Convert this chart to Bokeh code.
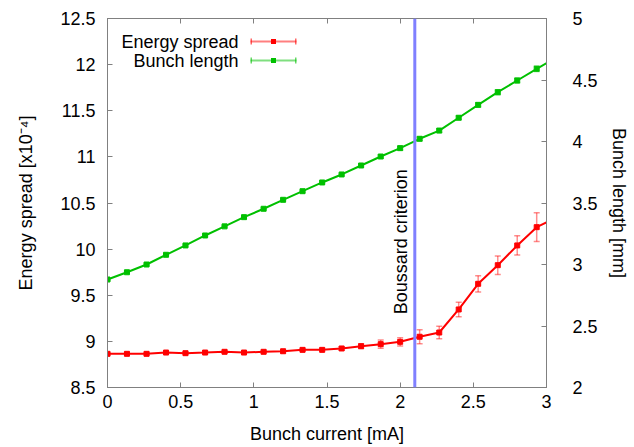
import numpy as np
from bokeh.plotting import figure
from bokeh.models import (Range1d, LinearAxis, ColumnDataSource, Whisker, TeeHead,
                          Span, Label, BoxAnnotation, FixedTicker, CustomLabelingPolicy)
from bokeh.embed import file_html
from bokeh.resources import INLINE

# ---------------- data ----------------
current = [0.0, 0.133, 0.267, 0.4, 0.533, 0.667, 0.8, 0.933, 1.067, 1.2, 1.333, 1.467,
           1.6, 1.733, 1.867, 2.0, 2.133, 2.267, 2.4, 2.533, 2.667, 2.8, 2.933, 3.067]
energy_spread = [8.865, 8.865, 8.865, 8.879, 8.872, 8.879, 8.887, 8.879, 8.887, 8.893,
                 8.908, 8.908, 8.923, 8.948, 8.97, 8.995, 9.05, 9.096, 9.346, 9.624,
                 9.826, 10.04, 10.238, 10.34]
energy_err = [0.015, 0.015, 0.015, 0.015, 0.015, 0.015, 0.015, 0.015, 0.015, 0.015,
              0.015, 0.015, 0.02, 0.025, 0.045, 0.045, 0.075, 0.068, 0.078, 0.088,
              0.1, 0.105, 0.155, 0.16]
bunch_length = [2.878, 2.937, 3.0, 3.079, 3.155, 3.236, 3.31, 3.385, 3.453, 3.526,
                3.596, 3.667, 3.732, 3.805, 3.878, 3.946, 4.022, 4.089, 4.193, 4.298,
                4.401, 4.496, 4.591, 4.683]
bunch_err = [0.008, 0.008, 0.008, 0.008, 0.008, 0.008, 0.008, 0.008, 0.008, 0.008,
             0.008, 0.008, 0.008, 0.01, 0.012, 0.015, 0.015, 0.015, 0.015, 0.018,
             0.02, 0.02, 0.022, 0.022]
boussard_current = 2.1
boussard_label_y = 10.08

x_ticks = [0, 0.5, 1, 1.5, 2, 2.5, 3]
x_tick_labels = ["0", "0.5", "1", "1.5", "2", "2.5", "3"]
left_ticks = [8.5, 9, 9.5, 10, 10.5, 11, 11.5, 12, 12.5]
left_tick_labels = ["8.5", "9", "9.5", "10", "10.5", "11", "11.5", "12", "12.5"]
right_ticks = [2, 2.5, 3, 3.5, 4, 4.5, 5]
right_tick_labels = ["2", "2.5", "3", "3.5", "4", "4.5", "5"]

FONT = "Liberation Sans"
FS = "18px"
RED = "#ff0000"
GREEN = "#00c000"
BLUE = "#8080ff"
AXC = "#808080"

src = ColumnDataSource(dict(
    x=current,
    es=energy_spread,
    es_lo=[v - e for v, e in zip(energy_spread, energy_err)],
    es_hi=[v + e for v, e in zip(energy_spread, energy_err)],
    bl=bunch_length,
    bl_lo=[v - e for v, e in zip(bunch_length, bunch_err)],
    bl_hi=[v + e for v, e in zip(bunch_length, bunch_err)],
))

p = figure(width=634, height=447, output_backend="svg", toolbar_location=None,
           x_range=Range1d(0, 3), y_range=Range1d(8.5, 12.5),
           min_border_left=107, min_border_right=88, min_border_top=18,
           min_border_bottom=60)
p.extra_y_ranges = {"bl": Range1d(2, 5)}
p.grid.visible = False
p.outline_line_color = AXC
p.background_fill_color = "white"
p.border_fill_color = "white"


def style_axis(ax, ticks, labels, standoff, label_standoff=None):
    ax.ticker = FixedTicker(ticks=ticks)
    ax.major_label_overrides = {t: l for t, l in zip(ticks, labels)}
    ax.major_tick_in = 5
    ax.major_tick_out = 0
    ax.minor_tick_in = 0
    ax.minor_tick_out = 0
    ax.axis_line_color = AXC
    ax.major_tick_line_color = AXC
    ax.major_label_text_font = FONT
    ax.major_label_text_font_size = FS
    ax.major_label_text_color = "black"
    ax.major_label_standoff = standoff
    ax.axis_label_text_font = FONT
    ax.axis_label_text_font_size = FS
    ax.axis_label_text_font_style = "normal"
    ax.axis_label_text_color = "black"
    if label_standoff is not None:
        ax.axis_label_standoff = label_standoff


xa = p.xaxis[0]
style_axis(xa, x_ticks, x_tick_labels, 7, 13)
xa.axis_label = "Bunch current [mA]"

ya = p.yaxis[0]
style_axis(ya, left_ticks, left_tick_labels, 12, 21)
ya.axis_label = "Energy spread [x10\u207b\u2074]"

ra = LinearAxis(y_range_name="bl")
style_axis(ra, right_ticks, right_tick_labels, 26, 8)
ra.axis_label = "Bunch length [mm]"
p.add_layout(ra, "right")

# mirrored tick marks on the top border, without labels
ta = LinearAxis()
style_axis(ta, x_ticks, x_tick_labels, 0)
ta.major_label_policy = CustomLabelingPolicy(code="return []")
p.add_layout(ta, "above")

# Boussard criterion
p.add_layout(Span(location=boussard_current, dimension="height", line_color=BLUE,
                  line_width=3))
p.add_layout(Label(x=boussard_current, y=boussard_label_y, text="Boussard criterion",
                   angle=np.pi / 2, text_align="center", text_baseline="alphabetic",
                   x_offset=-14, text_font=FONT, text_font_size=FS,
                   text_color="black"))

# error bars
for lo, hi, color, rng in [("es_lo", "es_hi", RED, "default"),
                           ("bl_lo", "bl_hi", GREEN, "bl")]:
    w = Whisker(source=src, base="x", lower=lo, upper=hi, line_color=color,
                line_alpha=0.45, line_width=1.5,
                upper_head=TeeHead(size=6, line_color=color, line_alpha=0.45, line_width=1.5),
                lower_head=TeeHead(size=6, line_color=color, line_alpha=0.45, line_width=1.5),
                y_range_name=rng)
    p.add_layout(w)

p.line("x", "es", source=src, line_color=RED, line_width=2)
p.scatter("x", "es", source=src, marker="square", size=5, color=RED)
p.line("x", "bl", source=src, line_color=GREEN, line_width=2, y_range_name="bl")
p.scatter("x", "bl", source=src, marker="square", size=5, color=GREEN, y_range_name="bl")

# custom gnuplot-style key (text left, sample right), in screen units
key_items = [("Energy spread", RED), ("Bunch length", GREEN)]
key_text_x = 131
key_y0 = 346
key_dy = 19
key_line_l, key_line_r, key_mark_x = 143, 189, 166
for i, (name, color) in enumerate(key_items):
    yy = key_y0 - i * key_dy
    p.add_layout(Label(x=key_text_x, y=yy, x_units="screen", y_units="screen",
                       text=name, text_align="right", text_baseline="middle",
                       text_font=FONT, text_font_size=FS, text_color="black"))
    p.add_layout(BoxAnnotation(left=key_line_l, right=key_line_r, bottom=yy - 1, top=yy + 1,
                               left_units="screen", right_units="screen",
                               bottom_units="screen", top_units="screen",
                               fill_color=color, fill_alpha=0.5, line_alpha=0))
    for cx in (key_line_l, key_line_r - 1.5):
        p.add_layout(BoxAnnotation(left=cx, right=cx + 1.5, bottom=yy - 3, top=yy + 3,
                                   left_units="screen", right_units="screen",
                                   bottom_units="screen", top_units="screen",
                                   fill_color=color, fill_alpha=0.6, line_alpha=0))
    p.add_layout(BoxAnnotation(left=key_mark_x - 2.5, right=key_mark_x + 2.5,
                               bottom=yy - 2.5, top=yy + 2.5,
                               left_units="screen", right_units="screen",
                               bottom_units="screen", top_units="screen",
                               fill_color=color, fill_alpha=1.0, line_alpha=0))

open("out.html", "w").write(file_html(p, INLINE))
